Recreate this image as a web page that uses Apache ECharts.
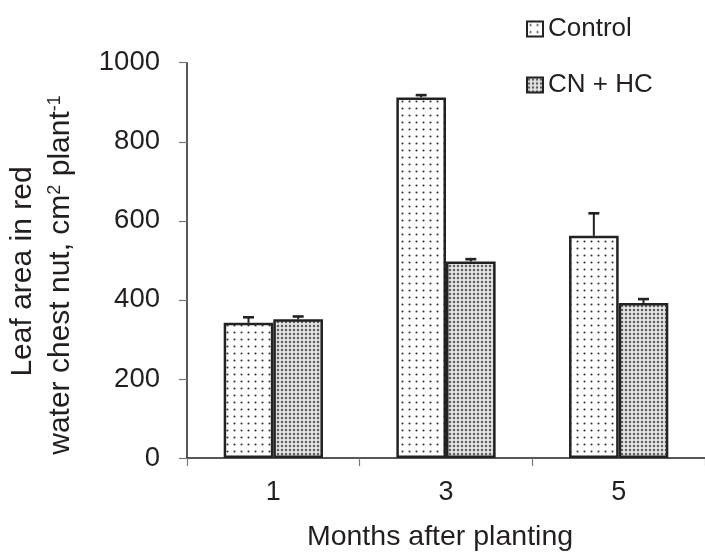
<!DOCTYPE html>
<html>
<head>
<meta charset="utf-8">
<script src="https://cdn.jsdelivr.net/npm/echarts@6/dist/echarts.min.js"></script>
<style>
html,body{margin:0;padding:0;background:#fff;}
#c{width:705px;height:555px;}
</style>
</head>
<body>
<div id="c"></div>
<script>
var categories = ['1', '3', '5'];
var seriesNames = ['Control', 'CN + HC'];
var controlValues = [342, 912, 562];
var controlErrors = [14, 6, 57];
var cnhcValues = [351, 497, 392];
var cnhcErrors = [7, 6, 10];
var yTicks = [0, 200, 400, 600, 800, 1000];

var FONT = '"Liberation Sans", Arial, Helvetica, sans-serif';
var TXT = '#231f20';

function makePattern(size, bg, dots) {
  var cv = document.createElement('canvas');
  cv.width = size; cv.height = size;
  var ctx = cv.getContext('2d');
  ctx.fillStyle = bg;
  ctx.fillRect(0, 0, size, size);
  dots.forEach(function (d) {
    ctx.fillStyle = d.c;
    ctx.beginPath();
    ctx.arc(d.x, d.y, d.r, 0, Math.PI * 2);
    ctx.fill();
  });
  return cv;
}
var controlPattern = makePattern(7, '#ffffff', [{x: 3.5, y: 3.5, r: 1.05, c: '#333333'}]);
var cnhcPattern = makePattern(4, '#e4e4e4', [{x: 2, y: 2, r: 1.25, c: '#5f5f5f'}]);

var CAT_GAP = 0.425;

function errData(vals, errs) {
  return vals.map(function (v, i) { return [i, v, errs[i]]; });
}

function errRender(sign) {
  return function (params, api) {
    var ci = api.value(0), v = api.value(1), e = api.value(2);
    var base = api.coord([ci, v]);
    var top = api.coord([ci, v + e]);
    var band = api.size([1, 0])[0];
    var barW = band * (1 - CAT_GAP) / 2;
    var x = base[0] + sign * barW / 2;
    var capHalf = 5.5;
    return {
      type: 'group',
      children: [
        {type: 'line', shape: {x1: x, y1: base[1], x2: x, y2: top[1]}, style: {stroke: '#222', lineWidth: 2}},
        {type: 'line', shape: {x1: x - capHalf, y1: top[1], x2: x + capHalf, y2: top[1]}, style: {stroke: '#222', lineWidth: 2.6}}
      ]
    };
  };
}

var chart = echarts.init(document.getElementById('c'), null, {renderer: 'canvas'});
var option = {
  animation: false,
  backgroundColor: '#ffffff',
  textStyle: {fontFamily: FONT},
  grid: {left: 187, top: 62.7, width: 522, height: 395.3, containLabel: false},
  legend: [
    {
      data: [seriesNames[0]], left: 521, top: 11, itemWidth: 16, itemHeight: 15, icon: 'rect',
      itemStyle: {borderColor: '#222', borderWidth: 2},
      textStyle: {fontSize: 26, color: TXT, fontFamily: FONT}
    },
    {
      data: [seriesNames[1]], left: 521, top: 67, itemWidth: 16, itemHeight: 15, icon: 'rect',
      itemStyle: {borderColor: '#222', borderWidth: 2},
      textStyle: {fontSize: 26, color: TXT, fontFamily: FONT}
    }
  ],
  xAxis: {
    type: 'category',
    data: categories,
    axisLine: {lineStyle: {color: '#222', width: 1.5}},
    axisTick: {show: true, length: 8, lineStyle: {color: '#777', width: 1.2}},
    axisLabel: {fontSize: 27, color: TXT, margin: 21, fontFamily: FONT}
  },
  yAxis: {
    type: 'value',
    min: yTicks[0], max: yTicks[yTicks.length - 1], interval: 200,
    splitLine: {show: false},
    axisLine: {show: true, lineStyle: {color: '#222', width: 1.5}},
    axisTick: {show: true, length: 8, lineStyle: {color: '#777', width: 1.2}},
    axisLabel: {fontSize: 27.5, color: TXT, margin: 27, fontFamily: FONT, formatter: function (v) { return String(v); }}
  },
  graphic: [
    {
      type: 'text', x: 23, y: 271.5, rotation: Math.PI / 2,
      style: {text: 'Leaf area in red', fontSize: 30, fontFamily: FONT, fill: TXT, textAlign: 'center', textVerticalAlign: 'middle'}
    },
    {
      type: 'text', x: 61, y: 275, rotation: Math.PI / 2,
      style: {
        text: 'water chest nut, cm{sup|2} plant{sup|-1}',
        fontSize: 30, fontFamily: FONT, fill: TXT, textAlign: 'center', textVerticalAlign: 'middle',
        rich: {sup: {fontSize: 18, fontFamily: FONT, fill: TXT, verticalAlign: 'top', padding: [0, 0, 12, 0]}}
      }
    },
    {
      type: 'text', x: 440, y: 537,
      style: {text: 'Months after planting', fontSize: 28.5, fontFamily: FONT, fill: TXT, textAlign: 'center', textVerticalAlign: 'middle'}
    }
  ],
  series: [
    {
      name: seriesNames[0], type: 'bar', data: controlValues,
      barGap: '0%', barCategoryGap: (CAT_GAP * 100) + '%',
      itemStyle: {color: {image: controlPattern, repeat: 'repeat'}, borderColor: '#222', borderWidth: 2.5},
      z: 2
    },
    {
      name: seriesNames[1], type: 'bar', data: cnhcValues,
      barGap: '0%', barCategoryGap: (CAT_GAP * 100) + '%',
      itemStyle: {color: {image: cnhcPattern, repeat: 'repeat'}, borderColor: '#222', borderWidth: 2.5},
      z: 2
    },
    {
      name: 'errControl', type: 'custom', renderItem: errRender(-1),
      data: errData(controlValues, controlErrors), encode: {x: 0, y: 1}, z: 3, silent: true
    },
    {
      name: 'errCNHC', type: 'custom', renderItem: errRender(1),
      data: errData(cnhcValues, cnhcErrors), encode: {x: 0, y: 1}, z: 3, silent: true
    }
  ]
};
chart.setOption(option);
</script>
</body>
</html>
